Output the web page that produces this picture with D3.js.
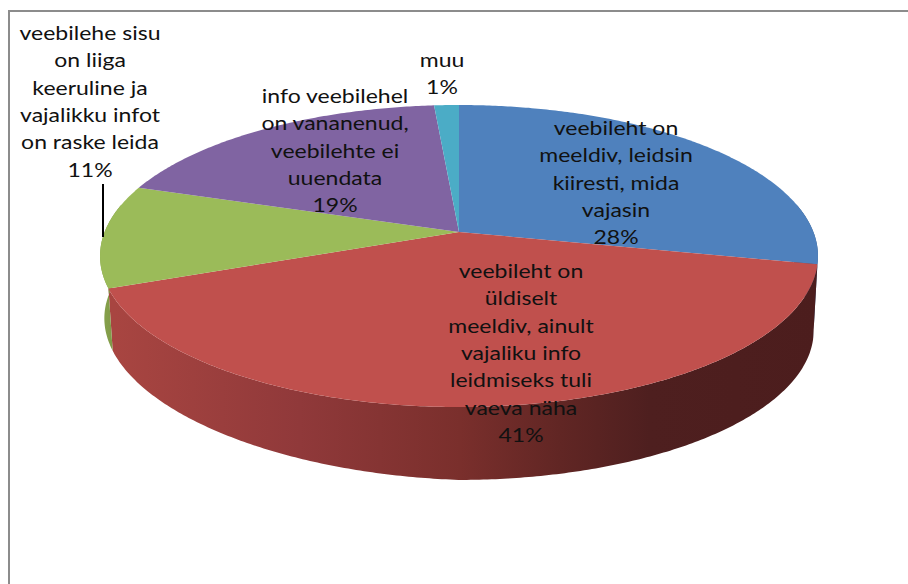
<!DOCTYPE html>
<html>
<head>
<meta charset="utf-8">
<script src="https://cdn.jsdelivr.net/npm/d3@7"></script>
<style>
  html, body { margin: 0; padding: 0; background: #fff; }
  svg { display: block; }
  text { font-family: Lato, sans-serif; font-size: 20px; fill: #111; }
</style>
</head>
<body>
<div id="chart"></div>
<script>
const categories = [
  "veebileht on meeldiv, leidsin kiiresti, mida vajasin",
  "veebileht on üldiselt meeldiv, ainult vajaliku info leidmiseks tuli vaeva näha",
  "veebilehe sisu on liiga keeruline ja vajalikku infot on raske leida",
  "info veebilehel on vananenud, veebilehte ei uuendata",
  "muu"
];
const values = [28.4, 40.7, 11.0, 18.6, 1.3];
const colors = ["#4f81bd", "#c0504d", "#9bbb59", "#8064a2", "#4bacc6"];

// how each label wraps in the picture
const labelLines = [
  ["veebileht on", "meeldiv, leidsin", "kiiresti, mida", "vajasin"],
  ["veebileht on", "üldiselt", "meeldiv, ainult", "vajaliku info", "leidmiseks tuli", "vaeva näha"],
  ["veebilehe sisu", "on liiga", "keeruline ja", "vajalikku infot", "on raske leida"],
  ["info veebilehel", "on vananenud,", "veebilehte ei", "uuendata"],
  ["muu"]
];
const labelPos = [[616, 130], [521, 273], [90, 35], [335, 98], [442, 62]];

const width = 908;
const height = 584;

const svg = d3.select("#chart").append("svg")
  .attr("width", width)
  .attr("height", height);

// frame is only on top and left
svg.append("path")
  .attr("d", d3.line()([[9, height], [9, 11], [width, 11]]))
  .attr("fill", "none")
  .attr("stroke", "#8c8c8c")
  .attr("stroke-width", 2);

// perspective projection of the pie disc
const cx = 459;
const cy = 232;
const R = 354.4;
const A = 147.2;
const k = -0.159;
const depth = 75;
const lowerScale = 0.988;
const baseTilt = 0.035; // left side of the base sits higher

function project(angle, dy, s) {
  const u = Math.sin(angle);
  const v = -Math.cos(angle);
  const w = 1 + k * v;
  const x = cx + (s * R * u) / w;
  const y = cy + dy + (s * A * v) / w;
  return [x, dy > 0 ? y + baseTilt * Math.min(0, x - cx) : y];
}

function arcPoints(a0, a1, dy, s) {
  const n = Math.max(2, Math.ceil(Math.abs(a1 - a0) / 0.01));
  return d3.range(n + 1).map((i) => project(a0 + ((a1 - a0) * i) / n, dy, s));
}

const arcs = d3.pie().sort(null).startAngle(0).endAngle(2 * Math.PI)(values);
const line = d3.line();

// gradients for the side wall
const defs = svg.append("defs");
const wallStops = [
  { id: "wall1", stops: [[115, "#a84541"], [300, "#90393a"], [460, "#7a2f2c"], [560, "#612624"], [650, "#4e1f1f"], [820, "#4c1d1d"]] },
  { id: "wall2", stops: [[100, "#88a34d"], [120, "#7c9545"]] }
];
wallStops.forEach((g) => {
  const grad = defs.append("linearGradient")
    .attr("id", g.id)
    .attr("gradientUnits", "userSpaceOnUse")
    .attr("x1", g.stops[0][0])
    .attr("x2", g.stops[g.stops.length - 1][0])
    .attr("y1", 0)
    .attr("y2", 0);
  const x0 = g.stops[0][0];
  const x1 = g.stops[g.stops.length - 1][0];
  g.stops.forEach((s) => {
    grad.append("stop")
      .attr("offset", (s[0] - x0) / (x1 - x0))
      .attr("stop-color", s[1]);
  });
});

// walls, only the part facing us
const frontStart = Math.PI * 0.44;
const frontEnd = Math.PI * 1.56;
const walls = svg.append("g");
arcs.forEach((d, i) => {
  const a0 = Math.max(d.startAngle, frontStart);
  const a1 = Math.min(d.endAngle, frontEnd);
  if (a1 <= a0) return;
  const pts = arcPoints(a0, a1, 0, 1).concat(arcPoints(a1, a0, depth, lowerScale));
  walls.append("path")
    .attr("d", line(pts) + "Z")
    .attr("fill", i === 1 ? "url(#wall1)" : i === 2 ? "url(#wall2)" : d3.color(colors[i]).darker(1));
});

// top surface
const topFace = svg.append("g");
arcs.forEach((d, i) => {
  const pts = [[cx, cy]].concat(arcPoints(d.startAngle, d.endAngle, 0, 1));
  topFace.append("path")
    .attr("d", line(pts) + "Z")
    .attr("fill", colors[i]);
});

// leader line of the green slice
svg.append("path")
  .attr("d", d3.line()([[103, 184], [103, 237]]))
  .attr("stroke", "#000")
  .attr("stroke-width", 2);

// data labels, the picture is stretched sideways so the text is too
const lineHeight = 27.3;
const stretch = 1.15;
const labels = svg.append("g").attr("text-anchor", "middle");
categories.forEach((c, i) => {
  const t = labels.append("text")
    .attr("transform", `translate(${labelPos[i][0]},${labelPos[i][1]}) scale(${stretch},1)`);
  labelLines[i].concat([Math.round(values[i]) + "%"]).forEach((s, j) => {
    t.append("tspan")
      .attr("x", 0)
      .attr("y", j * lineHeight)
      .attr("dominant-baseline", "middle")
      .text(s);
  });
});
</script>
</body>
</html>
